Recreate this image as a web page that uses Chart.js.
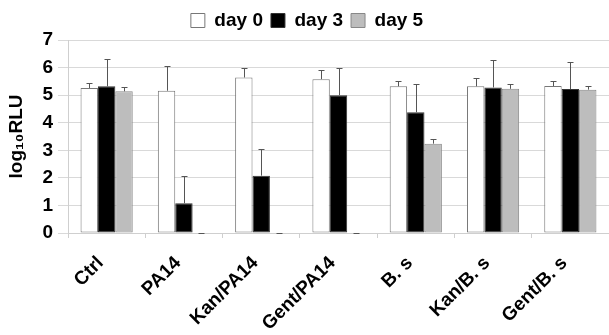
<!DOCTYPE html>
<html>
<head>
<meta charset="utf-8">
<script src="https://cdn.jsdelivr.net/npm/chart.js@4"></script>
<style>
    html, body { margin: 0; padding: 0; background: #ffffff; }
    #wrap { width: 609px; height: 335px; }
</style>
</head>
<body>
<div id="wrap"><canvas id="rlu-chart" width="609" height="335"></canvas></div>
<script>
// categories and values
const categories = ['Ctrl', 'PA14', 'Kan/PA14', 'Gent/PA14', 'B. s', 'Kan/B. s', 'Gent/B. s'];
const day0 = [5.26, 5.16, 5.64, 5.58, 5.32, 5.32, 5.33];
const day0Err = [0.18, 0.90, 0.33, 0.34, 0.20, 0.30, 0.19];
const day3 = [5.32, 1.08, 2.08, 5.00, 4.38, 5.28, 5.22];
const day3Err = [0.98, 1.00, 0.98, 1.00, 1.02, 0.99, 0.98];
const day5 = [5.14, 0, 0, 0, 3.24, 5.23, 5.20];
const day5Err = [0.15, 0, 0, 0, 0.17, 0.17, 0.14];
const yTicks = [0, 1, 2, 3, 4, 5, 6, 7];

const errors = [day0Err, day3Err, day5Err];
const fontFamily = '"Liberation Sans", Arial, sans-serif';

// upward-only error bars with a small cap
const errorBars = {
    id: 'errorBars',
    afterDatasetsDraw(chart) {
        const ctx = chart.ctx;
        const yScale = chart.scales.y;
        ctx.save();
        ctx.strokeStyle = '#555555';
        ctx.lineWidth = 1;
        chart.data.datasets.forEach((ds, i) => {
            const meta = chart.getDatasetMeta(i);
            meta.data.forEach((bar, j) => {
                const v = ds.data[j];
                const top = Math.round(yScale.getPixelForValue(v + errors[i][j])) + 0.5;
                const base = yScale.getPixelForValue(v);
                const x = Math.round(bar.x) + 0.5;
                ctx.beginPath();
                ctx.moveTo(x, base);
                ctx.lineTo(x, top);
                ctx.moveTo(x - 3, top);
                ctx.lineTo(x + 3, top);
                ctx.stroke();
            });
        });
        ctx.restore();
    }
};

const ctx = document.getElementById('rlu-chart').getContext('2d');

new Chart(ctx, {
    type: 'bar',
    data: {
        labels: categories,
        datasets: [{
            label: 'day 0',
            data: day0,
            backgroundColor: '#ffffff',
            borderColor: '#777777',
            borderWidth: 1
        }, {
            label: 'day 3',
            data: day3,
            backgroundColor: '#000000',
            borderColor: '#333333',
            borderWidth: 1
        }, {
            label: 'day 5',
            data: day5,
            backgroundColor: '#bdbdbd',
            borderColor: '#888888',
            borderWidth: 1
        }]
    },
    options: {
        responsive: false,
        animation: false,
        datasets: {
            bar: {
                categoryPercentage: 0.675,
                barPercentage: 1.0,
                borderSkipped: false
            }
        },
        layout: {
            padding: { left: 5, right: 0, top: 3, bottom: 0 }
        },
        plugins: {
            legend: {
                position: 'top',
                labels: {
                    color: '#000000',
                    boxWidth: 14,
                    boxHeight: 14,
                    padding: 8,
                    font: { size: 19, weight: 'bold', family: fontFamily }
                }
            },
            tooltip: { enabled: false }
        },
        scales: {
            x: {
                afterFit(scale) {
                    scale.height = 102;
                },
                grid: {
                    drawOnChartArea: false,
                    drawTicks: true,
                    tickLength: 5,
                    color: '#cfcfcf'
                },
                border: { color: '#cfcfcf' },
                ticks: {
                    color: '#000000',
                    maxRotation: 45,
                    minRotation: 45,
                    padding: 14,
                    labelOffset: -6,
                    font: { size: 19, weight: 'bold', family: fontFamily }
                }
            },
            y: {
                min: 0,
                max: 7,
                afterBuildTicks(scale) {
                    scale.ticks = yTicks.map(v => ({ value: v }));
                },
                afterFit(scale) {
                    scale.width = 63;
                },
                title: {
                    display: true,
                    text: 'log₁₀RLU',
                    color: '#000000',
                    padding: { top: 0, bottom: 0 },
                    font: { size: 19, weight: 'bold', family: fontFamily }
                },
                grid: {
                    color: '#d9d9d9',
                    tickLength: 10
                },
                border: { color: '#cfcfcf' },
                ticks: {
                    color: '#000000',
                    padding: 5,
                    font: { size: 19, weight: 'bold', family: fontFamily }
                }
            }
        }
    },
    plugins: [errorBars]
});
</script>
</body>
</html>
